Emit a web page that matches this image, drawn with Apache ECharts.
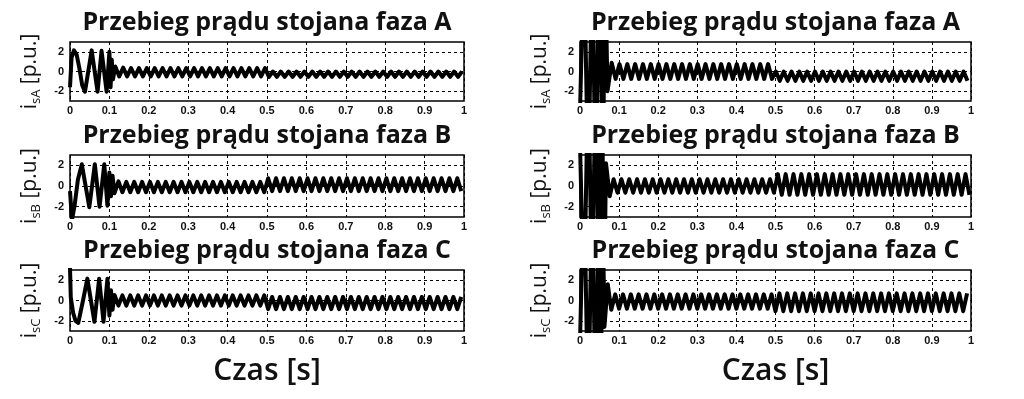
<!DOCTYPE html>
<html><head><meta charset="utf-8">
<script src="https://cdn.jsdelivr.net/npm/echarts@6/dist/echarts.min.js"></script>
<style>html,body{margin:0;padding:0;background:#fff}#c{width:1024px;height:399px}</style>
</head><body><div id="c"></div><script>
// ---------- text ----------
const titles = ['Przebieg prądu stojana faza A', 'Przebieg prądu stojana faza B', 'Przebieg prądu stojana faza C'];
const ySubs = ['sA', 'sB', 'sC'];
const yUnit = '[p.u.]';
const xName = 'Czas [s]';
const yTickValues = [-2, 0, 2];
const halfPeriod = 0.01; // spacing of the read extremes in the steady part (50 Hz)

// ---------- left column (transient points: time, value) ----------
const tLA = [0, 0.004, 0.010, 0.017, 0.024, 0.031, 0.038, 0.055, 0.070, 0.080, 0.093, 0.100, 0.103, 0.106, 0.109];
const vLA = [-1.6, 1.4, 2.15, 1.7, 0.3, -1.4, -2.05, 2.15, -2.05, 2.1, -2.05, 2.0, -1.6, 1.2, -0.8];
const startLA = 0.115;
const beforeLA = [0.5,-0.5,0.4,-0.5,0.35,-0.5,0.35,-0.5,0.35,-0.5,
  0.35,-0.5,0.35,-0.5,0.35,-0.5,0.35,-0.5,0.35,-0.5,
  0.35,-0.5,0.35,-0.5,0.35,-0.5,0.35,-0.5,0.35,-0.5,
  0.35,-0.5,0.35,-0.5,0.35,-0.5,0.35,-0.5,0.35];
const afterLA = [-0.55,0,-0.55,0,-0.55,0,-0.55,0,-0.55,0,
  -0.55,0,-0.55,0,-0.55,0,-0.55,0,-0.55,0,
  -0.55,0,-0.55,0,-0.55,0,-0.55,0,-0.55,0,
  -0.55,0,-0.55,0,-0.55,0,-0.55,0,-0.55,0,
  -0.55,0,-0.55,0,-0.55,0,-0.55,0,-0.55,0];

const tLB = [0, 0.005, 0.012, 0.020, 0.030, 0.049, 0.063, 0.075, 0.087, 0.095, 0.100, 0.104, 0.108];
const vLB = [-0.5, -3.3, -1.8, 0.6, 2.1, -2.05, 2.1, -2.0, 2.1, -1.9, 1.3, -1.0, 1.0];
const startLB = 0.113;
const beforeLB = [-0.7,0.45,-0.6,0.4,-0.6,0.4,-0.6,0.4,-0.6,0.4,
  -0.6,0.4,-0.6,0.4,-0.6,0.4,-0.6,0.4,-0.6,0.4,
  -0.6,0.4,-0.6,0.4,-0.6,0.4,-0.6,0.4,-0.6,0.4,
  -0.6,0.4,-0.6,0.4,-0.6,0.4,-0.6,0.4,-0.6];
const afterLB = [0.75,-0.5,0.75,-0.5,0.75,-0.5,0.75,-0.5,0.75,-0.5,
  0.75,-0.5,0.75,-0.5,0.75,-0.5,0.75,-0.5,0.75,-0.5,
  0.75,-0.5,0.75,-0.5,0.75,-0.5,0.75,-0.5,0.75,-0.5,
  0.75,-0.5,0.75,-0.5,0.75,-0.5,0.75,-0.5,0.75,-0.5,
  0.75,-0.5,0.75,-0.5,0.75,-0.5,0.75,-0.5,0.75,-0.5];

const tLC = [0, 0.002, 0.008, 0.014, 0.021, 0.033, 0.044, 0.062, 0.074, 0.085, 0.095, 0.100, 0.104, 0.108];
const vLC = [3.3, 0.3, -1.2, -2.0, -2.2, 0.0, 2.15, -2.1, 2.15, -2.1, 2.15, -1.5, 1.0, -0.9];
const startLC = 0.113;
const beforeLC = [0.55,-0.5,0.5,-0.5,0.5,-0.5,0.5,-0.5,0.5,-0.5,
  0.5,-0.5,0.5,-0.5,0.5,-0.5,0.5,-0.5,0.5,-0.5,
  0.5,-0.5,0.5,-0.5,0.5,-0.5,0.5,-0.5,0.5,-0.5,
  0.5,-0.5,0.5,-0.5,0.5,-0.5,0.5,-0.5,0.5];
const afterLC = [-0.85,0.35,-0.85,0.35,-0.85,0.35,-0.85,0.35,-0.85,0.35,
  -0.85,0.35,-0.85,0.35,-0.85,0.35,-0.85,0.35,-0.85,0.35,
  -0.85,0.35,-0.85,0.35,-0.85,0.35,-0.85,0.35,-0.85,0.35,
  -0.85,0.35,-0.85,0.35,-0.85,0.35,-0.85,0.35,-0.85,0.35,
  -0.85,0.35,-0.85,0.35,-0.85,0.35,-0.85,0.35,-0.85,0.35];

// ---------- right column (inrush far beyond the ±3 window) ----------
const tRA = [0, 0.0102, 0.0211, 0.0311, 0.0400, 0.0492, 0.0586, 0.0640, 0.0703, 0.081];
const vRA = [-4.1, 12, -12, 12, -12, 12, -12, 12, -2.0, 0.9];
const startRA = 0.091;
const beforeRA = [-0.75,0.75,-0.75,0.75,-0.75,0.75,-0.75,0.75,-0.75,0.75,
  -0.75,0.75,-0.75,0.75,-0.75,0.75,-0.75,0.75,-0.75,0.75,
  -0.75,0.75,-0.75,0.75,-0.75,0.75,-0.75,0.75,-0.75,0.75,
  -0.75,0.75,-0.75,0.75,-0.75,0.75,-0.75,0.75,-0.75,0.75,
  -0.75];
const afterRA = [0,-0.95,0,-0.95,0,-0.95,0,-0.95,0,-0.95,
  0,-0.95,0,-0.95,0,-0.95,0,-0.95,0,-0.95,
  0,-0.95,0,-0.95,0,-0.95,0,-0.95,0,-0.95,
  0,-0.95,0,-0.95,0,-0.95,0,-0.95,0,-0.95,
  0,-0.95,0,-0.95,0,-0.95,0,-0.95,0,-0.95];

const tRB = [0, 0.0102, 0.0211, 0.0311, 0.0400, 0.0492, 0.0560, 0.0615, 0.0665, 0.076];
const vRB = [4.1, -12, 12, -12, 12, -12, 12, -12, 2.2, -1.0];
const startRB = 0.086;
const beforeRB = [0.65,-0.65,0.65,-0.65,0.65,-0.65,0.65,-0.65,0.65,-0.65,
  0.65,-0.65,0.65,-0.65,0.65,-0.65,0.65,-0.65,0.65,-0.65,
  0.65,-0.65,0.65,-0.65,0.65,-0.65,0.65,-0.65,0.65,-0.65,
  0.65,-0.65,0.65,-0.65,0.65,-0.65,0.65,-0.65,0.65,-0.65,
  0.65,-0.65];
const afterRB = [1.15,-0.85,1.15,-0.85,1.15,-0.85,1.15,-0.85,1.15,-0.85,
  1.15,-0.85,1.15,-0.85,1.15,-0.85,1.15,-0.85,1.15,-0.85,
  1.15,-0.85,1.15,-0.85,1.15,-0.85,1.15,-0.85,1.15,-0.85,
  1.15,-0.85,1.15,-0.85,1.15,-0.85,1.15,-0.85,1.15,-0.85,
  1.15,-0.85,1.15,-0.85,1.15,-0.85,1.15,-0.85,1.15,-0.85];

const tRC = [0, 0.0102, 0.0211, 0.0311, 0.0400, 0.0492, 0.0535, 0.0570, 0.0625, 0.071, 0.080];
const vRC = [-4.1, 12, -12, 12, -12, 12, -12, 12, -2.6, 1.6, -0.9];
const startRC = 0.090;
const beforeRC = [0.6,-0.8,0.6,-0.8,0.6,-0.8,0.6,-0.8,0.6,-0.8,
  0.6,-0.8,0.6,-0.8,0.6,-0.8,0.6,-0.8,0.6,-0.8,
  0.6,-0.8,0.6,-0.8,0.6,-0.8,0.6,-0.8,0.6,-0.8,
  0.6,-0.8,0.6,-0.8,0.6,-0.8,0.6,-0.8,0.6,-0.8,
  0.6];
const afterRC = [-1.05,0.7,-1.05,0.7,-1.05,0.7,-1.05,0.7,-1.05,0.7,
  -1.05,0.7,-1.05,0.7,-1.05,0.7,-1.05,0.7,-1.05,0.7,
  -1.05,0.7,-1.05,0.7,-1.05,0.7,-1.05,0.7,-1.05,0.7,
  -1.05,0.7,-1.05,0.7,-1.05,0.7,-1.05,0.7,-1.05,0.7,
  -1.05,0.7,-1.05,0.7,-1.05,0.7,-1.05,0.7,-1.05,0.7];

// ---------- build ----------
function build(tt, vv, start, before, after) {
  const d = tt.map((t, i) => [t, vv[i]]);
  before.concat(after).forEach((v, i) => d.push([+(start + i * halfPeriod).toFixed(4), v]));
  return d;
}
const panels = [
  {col: 0, row: 0, data: build(tLA, vLA, startLA, beforeLA, afterLA)},
  {col: 0, row: 1, data: build(tLB, vLB, startLB, beforeLB, afterLB)},
  {col: 0, row: 2, data: build(tLC, vLC, startLC, beforeLC, afterLC)},
  {col: 1, row: 0, data: build(tRA, vRA, startRA, beforeRA, afterRA)},
  {col: 1, row: 1, data: build(tRB, vRB, startRB, beforeRB, afterRB)},
  {col: 1, row: 2, data: build(tRC, vRC, startRC, beforeRC, afterRC)}
];

const colLeft = [70, 580], colWidth = [394, 391];
const rowTop = [42, 155, 270], rowHeight = [59, 62, 61];
const titleY = [23, 136, 251];
const tickFont = {fontFamily: 'Liberation Sans', fontWeight: 'bold', fontSize: 11, color: '#111'};
const textFont = 'Open Sans';

const grids = [], xAxes = [], yAxes = [], series = [], graphics = [];
panels.forEach((p, i) => {
  grids.push({left: colLeft[p.col], top: rowTop[p.row], width: colWidth[p.col], height: rowHeight[p.row],
    show: true, borderColor: '#000', borderWidth: 1.5, backgroundColor: 'transparent'});
  xAxes.push({type: 'value', gridIndex: i, min: 0, max: 1, interval: 0.1,
    axisLine: {show: false}, axisTick: {show: true, inside: true, length: 3, lineStyle: {color: '#000'}},
    axisLabel: Object.assign({margin: 4}, tickFont),
    splitLine: {show: true, lineStyle: {color: '#000', type: [3, 3], width: 1}}});
  yAxes.push({type: 'value', gridIndex: i, min: -3, max: 3, interval: 1,
    axisLine: {show: false}, axisTick: {show: false},
    axisLabel: Object.assign({margin: 6, formatter: v => (yTickValues.indexOf(v) >= 0 ? String(v) : '')}, tickFont),
    splitLine: {show: true, lineStyle: {color: ['rgba(0,0,0,0)', '#000'], type: [3, 3], width: 1}},
    name: '{i|i}{s|' + ySubs[p.row] + '}{u| ' + yUnit + '}', nameLocation: 'middle', nameGap: 29, nameMoveOverlap: false,
    nameTextStyle: {color: '#111', fontFamily: textFont, rich: {
      i: {fontSize: 21, fontFamily: textFont, color: '#111'},
      s: {fontSize: 13, fontFamily: textFont, color: '#111', verticalAlign: 'bottom', padding: [0, 0, -2, 0]},
      u: {fontSize: 21, fontFamily: textFont, color: '#111'}}}});
  series.push({type: 'line', xAxisIndex: i, yAxisIndex: i, data: p.data, showSymbol: false, symbol: 'none',
    clip: true, lineStyle: {color: '#000', width: 4, join: 'round'}, animation: false, z: 3});
  graphics.push({type: 'text', x: colLeft[p.col] + colWidth[p.col] / 2, y: titleY[p.row],
    style: {text: titles[p.row], fill: '#111', align: 'center', verticalAlign: 'middle',
      font: 'bold 25px "' + textFont + '"'}});
});
[0, 1].forEach(c => graphics.push({type: 'text', x: colLeft[c] + colWidth[c] / 2, y: 371,
  style: {text: xName, fill: '#111', align: 'center', verticalAlign: 'middle', font: '600 30px "' + textFont + '"'}}));

const chart = echarts.init(document.getElementById('c'));
chart.setOption({animation: false, backgroundColor: '#fff', grid: grids, xAxis: xAxes, yAxis: yAxes, series: series, graphic: graphics});
</script></body></html>
